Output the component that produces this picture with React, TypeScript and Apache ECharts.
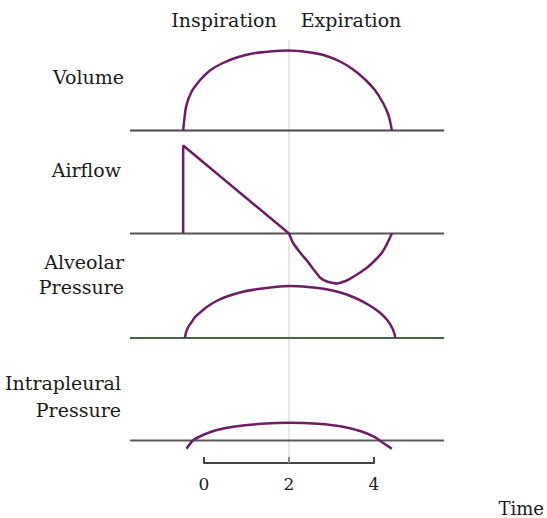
import React, { useEffect, useRef } from "react";
import * as echarts from "echarts";

// ---- data ----
const timeTicks = [0, 2, 4];
const timeRange = [0, 4];
const baselineSpan = [-1.74, 5.65];
const markerTime = 2;
const phaseLabels = ["Inspiration", "Expiration"];
const panelLabels = ["Volume", "Airflow", "Alveolar\nPressure", "Intrapleural\nPressure"];
const axisTitle = "Time";

const volume: number[][] = [
  [-0.49, 0], [-0.42, 2.4], [-0.29, 3.9], [-0.09, 5.05], [0.14, 6.0], [0.42, 6.7],
  [0.77, 7.3], [1.14, 7.7], [1.55, 7.9], [1.98, 8.0], [2.42, 7.85], [2.81, 7.55],
  [3.2, 6.9], [3.51, 6.1], [3.79, 5.1], [4.02, 4.05], [4.22, 2.7], [4.34, 1.55],
  [4.39, 0.7], [4.42, 0],
];
const airflowInspiration: number[][] = [[-0.49, 0], [-0.49, 8.8], [2.0, 0]];
const airflowExpiration: number[][] = [
  [2.0, 0], [2.09, -0.9], [2.26, -1.9], [2.42, -2.7], [2.56, -3.5], [2.73, -4.4],
  [2.89, -4.8], [3.13, -5.0], [3.36, -4.7], [3.6, -4.1], [3.84, -3.4], [4.02, -2.7],
  [4.19, -1.9], [4.31, -1.0], [4.42, 0],
];
const alveolar: number[][] = [
  [-0.45, 0], [-0.42, 0.6], [-0.37, 1.1], [-0.29, 1.6], [-0.21, 2.1], [-0.05, 2.7],
  [0.1, 3.2], [0.34, 3.8], [0.57, 4.2], [0.89, 4.6], [1.28, 4.9], [1.67, 5.1],
  [2.02, 5.2], [2.45, 5.1], [2.85, 4.9], [3.25, 4.5], [3.56, 4.0], [3.88, 3.3],
  [4.12, 2.6], [4.31, 1.8], [4.43, 1.0], [4.49, 0.3], [4.5, 0],
];
const intrapleural: number[][] = [
  [-0.41, -0.83], [-0.26, 0], [-0.05, 0.5], [0.26, 1.0], [0.73, 1.4], [1.36, 1.67],
  [2.02, 1.77], [2.68, 1.67], [3.24, 1.4], [3.71, 0.9], [4.02, 0.33], [4.21, -0.23],
  [4.42, -0.83],
];

const SERIF = "DejaVu Serif";
const CURVE = "#6c1d66";
const BASE = "#4a4a4a";

export default function App() {
  const ref = useRef<HTMLDivElement>(null);
  useEffect(() => {
    if (!ref.current) return;
    const chart = echarts.init(ref.current, undefined, { renderer: "svg" });

    const panelGrids = [
      { top: 40.5, height: 100, yMin: -1, yMax: 9 },
      { top: 143.5, height: 150, yMin: -6, yMax: 9 },
      { top: 278, height: 70, yMin: -1, yMax: 6 },
      { top: 400.5, height: 50, yMin: -1, yMax: 4 },
    ];
    const baseColors = [BASE, "#555555", "#4b634b", "#5a5a5a"];

    const grids: any[] = panelGrids.map((g) => ({ left: 119, width: 340, top: g.top, height: g.height }));
    grids.push({ left: 119, width: 340, top: 40, height: 423 }); // marker overlay
    grids.push({ left: 204, width: 170, top: 400, height: 63 }); // time axis

    const xAxes: any[] = panelGrids.map((_, i) => ({ type: "value", gridIndex: i, min: -2, max: 6, show: false }));
    xAxes.push({ type: "value", gridIndex: 4, min: -2, max: 6, show: false });
    xAxes.push({
      type: "value", gridIndex: 5, min: timeRange[0], max: timeRange[1], interval: 2,
      axisLine: { show: true, lineStyle: { color: "#444", width: 2 } },
      axisTick: { show: true, inside: true, length: 6, lineStyle: { color: "#444", width: 2 } },
      axisLabel: {
        fontFamily: SERIF, fontSize: 17, color: "#222", margin: 12,
        customValues: timeTicks,
      },
      splitLine: { show: false },
    });

    const yAxes: any[] = panelGrids.map((g, i) => ({ type: "value", gridIndex: i, min: g.yMin, max: g.yMax, show: false }));
    yAxes.push({ type: "value", gridIndex: 4, min: 0, max: 1, show: false });
    yAxes.push({ type: "value", gridIndex: 5, min: 0, max: 1, show: false });

    const line = (i: number, data: number[][], color: string, width: number, smooth: number | boolean, z = 3) => ({
      type: "line", xAxisIndex: i, yAxisIndex: i, data, showSymbol: false, symbol: "none",
      smooth, lineStyle: { color, width }, z, silent: true,
    });

    const series: any[] = [];
    series.push(line(4, [[markerTime, 0], [markerTime, 1]], "#cfcfcf", 1, false, 1));
    panelGrids.forEach((_, i) => {
      series.push(line(i, [[baselineSpan[0], 0], [baselineSpan[1], 0]], baseColors[i], 2, false, 2));
    });
    series.push(line(0, volume, CURVE, 2.5, 0.25));
    series.push(line(1, airflowInspiration, CURVE, 2.5, false));
    series.push(line(1, airflowExpiration, CURVE, 2.5, 0.15));
    series.push(line(2, alveolar, CURVE, 2.5, 0.25));
    series.push(line(3, intrapleural, CURVE, 2.5, 0.3));

    const txt = (text: string, x: number, y: number, size: number, align: string, lineHeight?: number) => ({
      type: "text", x, y, silent: true,
      style: {
        text, fill: "#1a1a1a", fontFamily: SERIF, fontSize: size,
        textAlign: align, textVerticalAlign: "middle", lineHeight,
      },
    });

    const graphic: any[] = [
      txt(phaseLabels[0], 224, 20, 19, "center"),
      txt(phaseLabels[1], 351, 20, 19, "center"),
      txt(panelLabels[0], 124, 77, 19, "right"),
      txt(panelLabels[1], 121, 170, 19, "right"),
      txt(panelLabels[2], 124, 274.5, 19, "right", 25),
      txt(panelLabels[3], 121, 396.5, 19, "right", 27),
      txt(axisTitle, 544, 508, 18, "right"),
    ];

    chart.setOption({
      animation: false,
      backgroundColor: "#ffffff",
      grid: grids,
      xAxis: xAxes,
      yAxis: yAxes,
      series,
      graphic,
    });
    return () => chart.dispose();
  }, []);
  return (
    <div
      ref={ref}
      style={{ position: "fixed", left: 0, top: 0, width: 547, height: 518, background: "#fff" }}
    />
  );
}
